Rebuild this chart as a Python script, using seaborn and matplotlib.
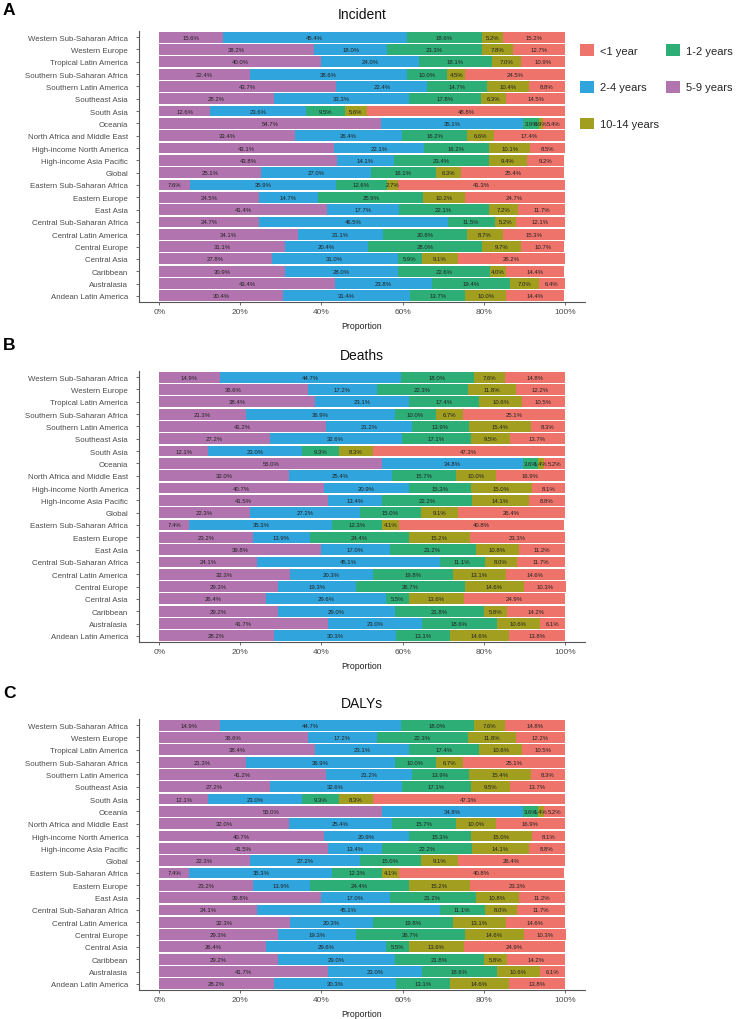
import numpy as np
import pandas as pd
import matplotlib
matplotlib.use("Agg")
import matplotlib.pyplot as plt
from matplotlib.patches import Patch
import seaborn as sns

# ---------------- data ----------------
regions = [
    "Western Sub-Saharan Africa", "Western Europe", "Tropical Latin America",
    "Southern Sub-Saharan Africa", "Southern Latin America", "Southeast Asia",
    "South Asia", "Oceania", "North Africa and Middle East",
    "High-income North America", "High-income Asia Pacific", "Global",
    "Eastern Sub-Saharan Africa", "Eastern Europe", "East Asia",
    "Central Sub-Saharan Africa", "Central Latin America", "Central Europe",
    "Central Asia", "Caribbean", "Australasia", "Andean Latin America",
]

# stacking order left -> right
segments = ["5-9 years", "2-4 years", "1-2 years", "10-14 years", "<1 year"]

# Incident (A)
inc_5_9 = [15.6, 38.2, 40.0, 22.4, 43.7, 28.2, 12.6, 54.7, 33.4, 43.1, 43.8,
           25.1, 7.6, 24.5, 41.4, 24.7, 34.1, 31.1, 27.8, 30.9, 43.4, 30.4]
inc_2_4 = [45.4, 18.0, 24.0, 38.6, 22.4, 33.3, 23.6, 35.1, 26.4, 22.1, 14.1,
           27.0, 35.9, 14.7, 17.7, 46.5, 21.1, 20.4, 31.0, 28.0, 23.8, 31.4]
inc_1_2 = [18.6, 23.3, 18.1, 10.0, 14.7, 17.8, 9.5, 3.9, 16.2, 16.2, 23.4,
           16.1, 12.6, 25.9, 22.1, 11.5, 20.8, 28.0, 5.9, 22.6, 19.4, 13.7]
inc_10_14 = [5.2, 7.8, 7.0, 4.5, 10.4, 6.3, 5.6, 0.9, 6.6, 10.1, 9.4,
             6.3, 2.7, 10.2, 7.2, 5.2, 8.7, 9.7, 9.1, 4.0, 7.0, 10.0]
inc_lt1 = [15.2, 12.7, 10.9, 24.5, 8.8, 14.5, 48.8, 5.4, 17.4, 8.5, 9.2,
           25.4, 41.3, 24.7, 11.7, 12.1, 15.3, 10.7, 26.2, 14.4, 6.4, 14.4]

# Deaths (B)
dth_5_9 = [14.9, 36.6, 38.4, 21.3, 41.2, 27.2, 12.1, 55.0, 32.0, 40.7, 41.5,
           22.3, 7.4, 23.2, 39.8, 24.1, 32.3, 29.3, 26.4, 29.2, 41.7, 28.2]
dth_2_4 = [44.7, 17.2, 23.1, 36.9, 21.2, 32.6, 23.0, 34.8, 25.4, 20.9, 13.4,
           27.2, 35.3, 13.9, 17.0, 45.1, 20.3, 19.3, 29.6, 29.0, 23.0, 30.3]
dth_1_2 = [18.0, 22.3, 17.4, 10.0, 13.9, 17.1, 9.3, 3.6, 15.7, 15.3, 22.2,
           15.0, 12.3, 24.4, 21.2, 11.1, 19.8, 26.7, 5.5, 21.8, 18.6, 13.1]
dth_10_14 = [7.6, 11.8, 10.6, 6.7, 15.4, 9.5, 8.3, 1.4, 10.0, 15.0, 14.1,
             9.1, 4.1, 15.2, 10.8, 8.0, 13.1, 14.6, 13.6, 5.8, 10.6, 14.6]
dth_lt1 = [14.8, 12.2, 10.5, 25.1, 8.3, 13.7, 47.3, 5.2, 16.9, 8.1, 8.8,
           26.4, 40.8, 23.3, 11.2, 11.7, 14.6, 10.3, 24.9, 14.2, 6.1, 13.8]

# DALYs (C)
daly_5_9 = [14.9, 36.6, 38.4, 21.3, 41.2, 27.2, 12.1, 55.0, 32.0, 40.7, 41.5,
            22.3, 7.4, 23.2, 39.8, 24.1, 32.3, 29.3, 26.4, 29.2, 41.7, 28.2]
daly_2_4 = [44.7, 17.2, 23.1, 36.9, 21.2, 32.6, 23.0, 34.8, 25.4, 20.9, 13.4,
            27.2, 35.3, 13.9, 17.0, 45.1, 20.3, 19.3, 29.6, 29.0, 23.0, 30.3]
daly_1_2 = [18.0, 22.3, 17.4, 10.0, 13.9, 17.1, 9.3, 3.6, 15.7, 15.3, 22.2,
            15.0, 12.3, 24.4, 21.2, 11.1, 19.8, 26.7, 5.5, 21.8, 18.6, 13.1]
daly_10_14 = [7.6, 11.8, 10.6, 6.7, 15.4, 9.5, 8.3, 1.4, 10.0, 15.0, 14.1,
              9.1, 4.1, 15.2, 10.8, 8.0, 13.1, 14.6, 13.6, 5.8, 10.6, 14.6]
daly_lt1 = [14.8, 12.2, 10.5, 25.1, 8.3, 13.7, 47.3, 5.2, 16.9, 8.1, 8.8,
            26.4, 40.8, 23.3, 11.2, 11.7, 14.6, 10.3, 24.9, 14.2, 6.1, 13.8]

x_ticks = [0, 20, 40, 60, 80, 100]
x_ticklabels = ["0%", "20%", "40%", "60%", "80%", "100%"]

panels = [
    ("A", "Incident", [inc_5_9, inc_2_4, inc_1_2, inc_10_14, inc_lt1]),
    ("B", "Deaths", [dth_5_9, dth_2_4, dth_1_2, dth_10_14, dth_lt1]),
    ("C", "DALYs", [daly_5_9, daly_2_4, daly_1_2, daly_10_14, daly_lt1]),
]

colors = {
    "<1 year": "#EE736A",
    "1-2 years": "#2DAE76",
    "2-4 years": "#30A4DC",
    "5-9 years": "#B274AE",
    "10-14 years": "#A29E20",
}

# ---------------- style ----------------
sns.set_theme(style="ticks")
plt.rcParams["font.family"] = ["Liberation Sans", "DejaVu Sans"]

W, H = 736, 1020
fig = plt.figure(figsize=(W / 100, H / 100), dpi=100)

ax_left, ax_w, ax_h = 139, 446, 271
tops = [32, 372, 720]
title_y = [15, 356, 704]
letter_y = [10.5, 346, 693]

axis_col = "#555555"
for (letter, title, series), top, ty, ly in zip(panels, tops, title_y, letter_y):
    ax = fig.add_axes([ax_left / W, 1 - (top + ax_h) / H, ax_w / W, ax_h / H])
    vals = np.array(series, dtype=float).T  # rows x segments
    cum = np.cumsum(vals, axis=1)
    df = pd.DataFrame(cum, columns=segments)
    df["region"] = regions
    # draw from the full stack down so each shorter cumulative bar overlays
    for k in reversed(range(len(segments))):
        sns.barplot(data=df, x=segments[k], y="region", order=regions,
                    orient="h", color=colors[segments[k]], saturation=1,
                    width=0.88, errorbar=None, linewidth=0, ax=ax)
    # percentage labels
    starts = cum - vals
    for i in range(len(regions)):
        for k in range(len(segments)):
            ax.text(starts[i, k] + vals[i, k] / 2, i, f"{vals[i, k]:.1f}%",
                    ha="center", va="center", fontsize=4.3, color="#222222")
    ax.set_xlim(-5, 105)
    ax.set_ylim(len(regions) - 0.5, -0.5)
    ax.set_xticks(x_ticks)
    ax.set_xticklabels(x_ticklabels)
    ax.set_xlabel("Proportion", fontsize=6.3, color="#222222", labelpad=4)
    ax.set_ylabel("")
    ax.tick_params(axis="x", length=2.5, width=0.6, color=axis_col,
                   labelsize=6, labelcolor="#4D4D4D", pad=2)
    ax.tick_params(axis="y", length=2.5, width=0.6, color=axis_col,
                   labelsize=5.7, labelcolor="#4D4D4D", pad=5.5, left=True)
    for s in ["top", "right"]:
        ax.spines[s].set_visible(False)
    for s in ["left", "bottom"]:
        ax.spines[s].set_color(axis_col)
        ax.spines[s].set_linewidth(0.8)
    fig.text((ax_left + ax_w / 2) / W, 1 - ty / H, title, ha="center",
             va="center", fontsize=10, color="#111111")
    fig.text(3 / W, 1 - ly / H, letter, ha="left", va="center",
             fontsize=12.5, fontweight="bold", color="black")

legend_order = ["<1 year", "2-4 years", "10-14 years", "1-2 years", "5-9 years"]
handles = [Patch(facecolor=colors[l], edgecolor="none", label=l) for l in legend_order]
fig.legend(handles=handles, loc="upper left", bbox_to_anchor=(580 / W, 1 - 45 / H),
           ncol=2, frameon=False, fontsize=8, handlelength=1.25, handleheight=1.25,
           labelspacing=2.25, columnspacing=0.6, handletextpad=0.55,
           borderpad=0, borderaxespad=0)

fig.savefig("out.png", dpi=100)
